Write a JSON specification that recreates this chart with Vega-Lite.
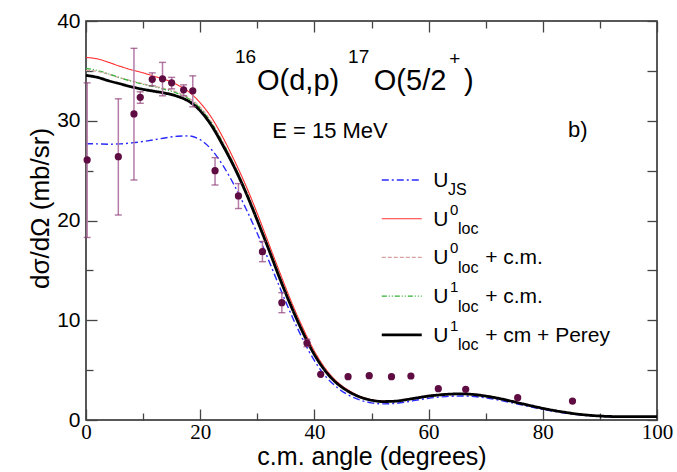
{
  "$schema": "https://vega.github.io/schema/vega-lite/v6.json",
  "autosize": {"type": "none"},
  "padding": {"left": 86, "top": 21, "right": 20, "bottom": 52},
  "width": 571,
  "height": 399,
  "background": "white",
  "config": {
    "view": {"stroke": "#222", "strokeWidth": 1.5},
    "axis": {"grid": false, "domain": false, "tickColor": "#444", "tickWidth": 1.3, "labelColor": "black", "titleColor": "black", "titleFontWeight": "normal", "labelFont": "Liberation Sans", "titleFont": "Liberation Sans"},
    "font": "Liberation Sans"
  },
  "datasets": {
    "curves": [
      {"a":0,"v":27.7,"m":"B"},{"a":2,"v":27.68,"m":"B"},{"a":4,"v":27.65,"m":"B"},{"a":6,"v":27.68,"m":"B"},{"a":8,"v":27.78,"m":"B"},{"a":10,"v":27.92,"m":"B"},{"a":12,"v":28.1,"m":"B"},{"a":14,"v":28.3,"m":"B"},{"a":16,"v":28.45,"m":"B"},{"a":18,"v":28.48,"m":"B"},{"a":20,"v":28.1,"m":"B"},{"a":22,"v":27.1,"m":"B"},{"a":24,"v":25.5,"m":"B"},{"a":26,"v":23.5,"m":"B"},{"a":28,"v":21.2,"m":"B"},{"a":30,"v":18.7,"m":"B"},{"a":32,"v":16.0,"m":"B"},{"a":34,"v":13.2,"m":"B"},{"a":36,"v":10.5,"m":"B"},{"a":38,"v":8.05,"m":"B"},{"a":40,"v":5.95,"m":"B"},{"a":42,"v":4.35,"m":"B"},{"a":44,"v":3.25,"m":"B"},{"a":46,"v":2.5,"m":"B"},{"a":48,"v":2.0,"m":"B"},{"a":50,"v":1.72,"m":"B"},{"a":52,"v":1.62,"m":"B"},{"a":54,"v":1.66,"m":"B"},{"a":56,"v":1.8,"m":"B"},{"a":58,"v":2.0,"m":"B"},{"a":60,"v":2.18,"m":"B"},{"a":62,"v":2.3,"m":"B"},{"a":64,"v":2.38,"m":"B"},{"a":66,"v":2.4,"m":"B"},{"a":68,"v":2.35,"m":"B"},{"a":70,"v":2.22,"m":"B"},{"a":72,"v":2.03,"m":"B"},{"a":74,"v":1.8,"m":"B"},{"a":76,"v":1.55,"m":"B"},{"a":78,"v":1.3,"m":"B"},{"a":80,"v":1.06,"m":"B"},{"a":82,"v":0.86,"m":"B"},{"a":84,"v":0.68,"m":"B"},{"a":86,"v":0.54,"m":"B"},{"a":88,"v":0.43,"m":"B"},{"a":90,"v":0.36,"m":"B"},{"a":92,"v":0.32,"m":"B"},{"a":94,"v":0.3,"m":"B"},{"a":96,"v":0.3,"m":"B"},{"a":98,"v":0.3,"m":"B"},{"a":100,"v":0.31,"m":"B"},
      {"a":0,"v":36.35,"m":"R"},{"a":2,"v":36.2,"m":"R"},{"a":4,"v":35.85,"m":"R"},{"a":6,"v":35.45,"m":"R"},{"a":8,"v":35.1,"m":"R"},{"a":10,"v":34.8,"m":"R"},{"a":12,"v":34.45,"m":"R"},{"a":14,"v":34.1,"m":"R"},{"a":16,"v":33.6,"m":"R"},{"a":18,"v":32.9,"m":"R"},{"a":20,"v":31.8,"m":"R"},{"a":22,"v":30.3,"m":"R"},{"a":24,"v":28.3,"m":"R"},{"a":26,"v":26.0,"m":"R"},{"a":28,"v":23.5,"m":"R"},{"a":30,"v":20.7,"m":"R"},{"a":32,"v":17.7,"m":"R"},{"a":34,"v":14.7,"m":"R"},{"a":36,"v":11.8,"m":"R"},{"a":38,"v":9.2,"m":"R"},{"a":40,"v":6.9,"m":"R"},{"a":42,"v":5.1,"m":"R"},{"a":44,"v":3.82,"m":"R"},{"a":46,"v":2.98,"m":"R"},{"a":48,"v":2.38,"m":"R"},{"a":50,"v":2.04,"m":"R"},{"a":52,"v":1.9,"m":"R"},{"a":54,"v":1.92,"m":"R"},{"a":56,"v":2.06,"m":"R"},{"a":58,"v":2.25,"m":"R"},{"a":60,"v":2.43,"m":"R"},{"a":62,"v":2.55,"m":"R"},{"a":64,"v":2.63,"m":"R"},{"a":66,"v":2.65,"m":"R"},{"a":68,"v":2.58,"m":"R"},{"a":70,"v":2.43,"m":"R"},{"a":72,"v":2.22,"m":"R"},{"a":74,"v":1.97,"m":"R"},{"a":76,"v":1.7,"m":"R"},{"a":78,"v":1.43,"m":"R"},{"a":80,"v":1.18,"m":"R"},{"a":82,"v":0.96,"m":"R"},{"a":84,"v":0.77,"m":"R"},{"a":86,"v":0.61,"m":"R"},{"a":88,"v":0.49,"m":"R"},{"a":90,"v":0.41,"m":"R"},{"a":92,"v":0.36,"m":"R"},{"a":94,"v":0.34,"m":"R"},{"a":96,"v":0.33,"m":"R"},{"a":98,"v":0.34,"m":"R"},{"a":100,"v":0.35,"m":"R"},
      {"a":0,"v":35.05,"m":"P"},{"a":2,"v":34.95,"m":"P"},{"a":4,"v":34.65,"m":"P"},{"a":6,"v":34.3,"m":"P"},{"a":8,"v":34.0,"m":"P"},{"a":10,"v":33.7,"m":"P"},{"a":12,"v":33.45,"m":"P"},{"a":14,"v":33.2,"m":"P"},{"a":16,"v":32.85,"m":"P"},{"a":18,"v":32.3,"m":"P"},{"a":20,"v":31.35,"m":"P"},{"a":22,"v":29.85,"m":"P"},{"a":24,"v":27.85,"m":"P"},{"a":26,"v":25.6,"m":"P"},{"a":28,"v":23.1,"m":"P"},{"a":30,"v":20.3,"m":"P"},{"a":32,"v":17.35,"m":"P"},{"a":34,"v":14.35,"m":"P"},{"a":36,"v":11.5,"m":"P"},{"a":38,"v":8.9,"m":"P"},{"a":40,"v":6.65,"m":"P"},{"a":42,"v":4.95,"m":"P"},{"a":44,"v":3.7,"m":"P"},{"a":46,"v":2.9,"m":"P"},{"a":48,"v":2.33,"m":"P"},{"a":50,"v":2.0,"m":"P"},{"a":52,"v":1.86,"m":"P"},{"a":54,"v":1.89,"m":"P"},{"a":56,"v":2.04,"m":"P"},{"a":58,"v":2.23,"m":"P"},{"a":60,"v":2.41,"m":"P"},{"a":62,"v":2.53,"m":"P"},{"a":64,"v":2.61,"m":"P"},{"a":66,"v":2.63,"m":"P"},{"a":68,"v":2.56,"m":"P"},{"a":70,"v":2.41,"m":"P"},{"a":72,"v":2.21,"m":"P"},{"a":74,"v":1.96,"m":"P"},{"a":76,"v":1.69,"m":"P"},{"a":78,"v":1.42,"m":"P"},{"a":80,"v":1.17,"m":"P"},{"a":82,"v":0.95,"m":"P"},{"a":84,"v":0.76,"m":"P"},{"a":86,"v":0.6,"m":"P"},{"a":88,"v":0.48,"m":"P"},{"a":90,"v":0.4,"m":"P"},{"a":92,"v":0.35,"m":"P"},{"a":94,"v":0.33,"m":"P"},{"a":96,"v":0.33,"m":"P"},{"a":98,"v":0.33,"m":"P"},{"a":100,"v":0.34,"m":"P"},
      {"a":0,"v":35.25,"m":"G"},{"a":2,"v":35.05,"m":"G"},{"a":4,"v":34.7,"m":"G"},{"a":6,"v":34.3,"m":"G"},{"a":8,"v":33.95,"m":"G"},{"a":10,"v":33.65,"m":"G"},{"a":12,"v":33.4,"m":"G"},{"a":14,"v":33.1,"m":"G"},{"a":16,"v":32.75,"m":"G"},{"a":18,"v":32.2,"m":"G"},{"a":20,"v":31.25,"m":"G"},{"a":22,"v":29.75,"m":"G"},{"a":24,"v":27.75,"m":"G"},{"a":26,"v":25.5,"m":"G"},{"a":28,"v":23.0,"m":"G"},{"a":30,"v":20.2,"m":"G"},{"a":32,"v":17.25,"m":"G"},{"a":34,"v":14.25,"m":"G"},{"a":36,"v":11.4,"m":"G"},{"a":38,"v":8.82,"m":"G"},{"a":40,"v":6.6,"m":"G"},{"a":42,"v":4.9,"m":"G"},{"a":44,"v":3.67,"m":"G"},{"a":46,"v":2.87,"m":"G"},{"a":48,"v":2.31,"m":"G"},{"a":50,"v":1.99,"m":"G"},{"a":52,"v":1.85,"m":"G"},{"a":54,"v":1.88,"m":"G"},{"a":56,"v":2.03,"m":"G"},{"a":58,"v":2.22,"m":"G"},{"a":60,"v":2.4,"m":"G"},{"a":62,"v":2.52,"m":"G"},{"a":64,"v":2.6,"m":"G"},{"a":66,"v":2.62,"m":"G"},{"a":68,"v":2.55,"m":"G"},{"a":70,"v":2.4,"m":"G"},{"a":72,"v":2.2,"m":"G"},{"a":74,"v":1.95,"m":"G"},{"a":76,"v":1.68,"m":"G"},{"a":78,"v":1.42,"m":"G"},{"a":80,"v":1.17,"m":"G"},{"a":82,"v":0.95,"m":"G"},{"a":84,"v":0.76,"m":"G"},{"a":86,"v":0.6,"m":"G"},{"a":88,"v":0.48,"m":"G"},{"a":90,"v":0.4,"m":"G"},{"a":92,"v":0.35,"m":"G"},{"a":94,"v":0.33,"m":"G"},{"a":96,"v":0.33,"m":"G"},{"a":98,"v":0.33,"m":"G"},{"a":100,"v":0.34,"m":"G"},
      {"a":0,"v":34.55,"m":"K"},{"a":2,"v":34.35,"m":"K"},{"a":4,"v":34.0,"m":"K"},{"a":6,"v":33.7,"m":"K"},{"a":8,"v":33.4,"m":"K"},{"a":10,"v":33.15,"m":"K"},{"a":12,"v":32.95,"m":"K"},{"a":14,"v":32.75,"m":"K"},{"a":16,"v":32.45,"m":"K"},{"a":18,"v":31.95,"m":"K"},{"a":20,"v":31.0,"m":"K"},{"a":22,"v":29.5,"m":"K"},{"a":24,"v":27.5,"m":"K"},{"a":26,"v":25.3,"m":"K"},{"a":28,"v":22.8,"m":"K"},{"a":30,"v":20.0,"m":"K"},{"a":32,"v":17.1,"m":"K"},{"a":34,"v":14.1,"m":"K"},{"a":36,"v":11.3,"m":"K"},{"a":38,"v":8.75,"m":"K"},{"a":40,"v":6.55,"m":"K"},{"a":42,"v":4.85,"m":"K"},{"a":44,"v":3.65,"m":"K"},{"a":46,"v":2.85,"m":"K"},{"a":48,"v":2.3,"m":"K"},{"a":50,"v":1.98,"m":"K"},{"a":52,"v":1.85,"m":"K"},{"a":54,"v":1.88,"m":"K"},{"a":56,"v":2.03,"m":"K"},{"a":58,"v":2.22,"m":"K"},{"a":60,"v":2.4,"m":"K"},{"a":62,"v":2.52,"m":"K"},{"a":64,"v":2.6,"m":"K"},{"a":66,"v":2.62,"m":"K"},{"a":68,"v":2.55,"m":"K"},{"a":70,"v":2.4,"m":"K"},{"a":72,"v":2.2,"m":"K"},{"a":74,"v":1.95,"m":"K"},{"a":76,"v":1.68,"m":"K"},{"a":78,"v":1.42,"m":"K"},{"a":80,"v":1.17,"m":"K"},{"a":82,"v":0.95,"m":"K"},{"a":84,"v":0.76,"m":"K"},{"a":86,"v":0.6,"m":"K"},{"a":88,"v":0.48,"m":"K"},{"a":90,"v":0.4,"m":"K"},{"a":92,"v":0.35,"m":"K"},{"a":94,"v":0.33,"m":"K"},{"a":96,"v":0.33,"m":"K"},{"a":98,"v":0.33,"m":"K"},{"a":100,"v":0.34,"m":"K"}
    ],
    "points": [
      {"a":0.2,"v":26.07,"lo":18.3,"hi":33.8},
      {"a":5.66,"v":26.4,"lo":20.55,"hi":32.2},
      {"a":8.4,"v":30.68,"lo":24.06,"hi":37.26},
      {"a":9.5,"v":32.35,"lo":31.75,"hi":32.9},
      {"a":11.6,"v":34.15,"lo":33.5,"hi":34.8},
      {"a":13.4,"v":34.2,"lo":32.5,"hi":35.85},
      {"a":15.0,"v":33.8,"lo":33.2,"hi":34.35},
      {"a":17.1,"v":33.1,"lo":32.5,"hi":33.6},
      {"a":18.7,"v":33.0,"lo":31.4,"hi":34.5},
      {"a":22.6,"v":25.0,"lo":23.56,"hi":26.3},
      {"a":26.7,"v":22.46,"lo":21.2,"hi":23.7},
      {"a":30.9,"v":16.87,"lo":15.87,"hi":17.9},
      {"a":34.3,"v":11.76,"lo":10.76,"hi":12.76},
      {"a":38.7,"v":7.72,"lo":7.35,"hi":8.09},
      {"a":41.1,"v":4.58,"lo":4.58,"hi":4.58},
      {"a":45.9,"v":4.34,"lo":4.34,"hi":4.34},
      {"a":49.6,"v":4.44,"lo":4.44,"hi":4.44},
      {"a":53.5,"v":4.34,"lo":4.34,"hi":4.34},
      {"a":56.9,"v":4.41,"lo":4.41,"hi":4.41},
      {"a":61.7,"v":3.14,"lo":3.14,"hi":3.14},
      {"a":66.5,"v":3.08,"lo":3.08,"hi":3.08},
      {"a":75.6,"v":2.24,"lo":2.24,"hi":2.24},
      {"a":85.2,"v":1.9,"lo":1.9,"hi":1.9}
    ],
    "legendLines": [
      {"m":"B","v":24.06},
      {"m":"R","v":20.18},
      {"m":"P","v":16.3},
      {"m":"G","v":12.42},
      {"m":"K","v":8.54}
    ],
    "texts": [
      {"t":"16","a":26.1,"v":35.75,"k":"tsup"},
      {"t":"O(d,p)","a":29.95,"v":33.08,"k":"big"},
      {"t":"17","a":45.9,"v":35.75,"k":"tsup"},
      {"t":"O(5/2","a":50.4,"v":33.08,"k":"big"},
      {"t":"+","a":63.6,"v":35.6,"k":"tsup"},
      {"t":")","a":66.2,"v":33.08,"k":"big"},
      {"t":"E = 15 MeV","a":32.6,"v":28.27,"k":"mid"},
      {"t":"b)","a":84.4,"v":28.4,"k":"mid"},
      {"t":"U","a":60.8,"v":23.36,"k":"leg"},
      {"t":"JS","a":63.4,"v":22.6,"k":"lsub"},
      {"t":"U","a":60.8,"v":19.48,"k":"leg"},
      {"t":"0","a":63.75,"v":20.58,"k":"lsup"},
      {"t":"loc","a":65.15,"v":18.63,"k":"lsub"},
      {"t":"U","a":60.8,"v":15.6,"k":"leg"},
      {"t":"0","a":63.75,"v":16.7,"k":"lsup"},
      {"t":"loc","a":65.15,"v":14.75,"k":"lsub"},
      {"t":"+ c.m.","a":69.9,"v":15.6,"k":"leg"},
      {"t":"U","a":60.8,"v":11.72,"k":"leg"},
      {"t":"1","a":63.75,"v":12.82,"k":"lsup"},
      {"t":"loc","a":65.15,"v":10.87,"k":"lsub"},
      {"t":"+ c.m.","a":69.9,"v":11.72,"k":"leg"},
      {"t":"U","a":60.8,"v":7.84,"k":"leg"},
      {"t":"1","a":63.75,"v":8.94,"k":"lsup"},
      {"t":"loc","a":65.15,"v":6.99,"k":"lsub"},
      {"t":"+ cm + Perey","a":69.9,"v":7.84,"k":"leg"}
    ]
  },
  "resolve": {"axis": {"x": "independent", "y": "independent"}},
  "layer": [
    {
      "data": {"name": "curves"},
      "mark": {"type": "line", "interpolate": "monotone"},
      "encoding": {
        "x": {"field": "a", "type": "quantitative",
          "scale": {"domain": [0, 100], "nice": false},
          "axis": {"orient": "bottom", "values": [0,10,20,30,40,50,60,70,80,90,100],
            "tickSize": {"condition": {"test": "datum.value % 20 === 0", "value": -11}, "value": -7},
            "labelExpr": "datum.value % 20 === 0 ? datum.label : ''",
            "labelFont": "Liberation Serif", "labelFontSize": 21, "labelPadding": 12, "labelFlush": false, "labelOverlap": false, "labelBound": false,
            "title": "c.m. angle (degrees)", "titleFontSize": 25, "titlePadding": -2}},
        "y": {"field": "v", "type": "quantitative",
          "scale": {"domain": [0, 40], "nice": false},
          "axis": {"orient": "left", "values": [0,5,10,15,20,25,30,35,40],
            "tickSize": {"condition": {"test": "datum.value % 10 === 0", "value": -11}, "value": -7},
            "labelExpr": "datum.value % 10 === 0 ? datum.label : ''",
            "labelFontSize": 21, "labelPadding": 17, "labelOverlap": false, "labelBound": false, "labelFlush": false,
            "title": "dσ/dΩ (mb/sr)", "titleFontSize": 26, "titlePadding": 3, "titleY": 187}},
        "detail": {"field": "m"},
        "color": {"field": "m", "type": "nominal", "legend": null,
          "scale": {"domain": ["B","R","P","G","K"], "range": ["#2a2aff","#ff3030","#d9a0a0","#30b030","#000000"]}},
        "strokeDash": {"field": "m", "type": "nominal", "legend": null,
          "scale": {"domain": ["B","R","P","G","K"], "range": [[7,3,2,3],[1,0],[4,2],[5,2,1,2,1,2],[1,0]]}},
        "strokeWidth": {"field": "m", "type": "ordinal", "legend": null,
          "scale": {"type": "ordinal", "domain": ["B","R","P","G","K"], "range": [1.4,1.1,1.2,1.2,2.8]}}
      }
    },
    {
      "data": {"name": "legendLines"},
      "mark": {"type": "rule"},
      "encoding": {
        "x": {"datum": 51.8, "type": "quantitative", "scale": {"domain": [0, 100], "nice": false}, "axis": null},
        "x2": {"datum": 58.8},
        "y": {"field": "v", "type": "quantitative", "scale": {"domain": [0, 40], "nice": false}, "axis": null},
        "color": {"field": "m", "type": "nominal", "legend": null,
          "scale": {"domain": ["B","R","P","G","K"], "range": ["#2a2aff","#ff3030","#d9a0a0","#30b030","#000000"]}},
        "strokeDash": {"field": "m", "type": "nominal", "legend": null,
          "scale": {"domain": ["B","R","P","G","K"], "range": [[7,3,2,3],[1,0],[4,2],[5,2,1,2,1,2],[1,0]]}},
        "strokeWidth": {"field": "m", "type": "ordinal", "legend": null,
          "scale": {"type": "ordinal", "domain": ["B","R","P","G","K"], "range": [1.4,1.1,1.2,1.2,2.8]}}
      }
    },
    {
      "data": {"name": "points"},
      "transform": [{"filter": "datum.hi > datum.lo"}],
      "mark": {"type": "rule", "color": "#b57ba8", "strokeWidth": 1.5},
      "encoding": {
        "x": {"field": "a", "type": "quantitative", "scale": {"domain": [0, 100], "nice": false}, "axis": null},
        "y": {"field": "lo", "type": "quantitative", "scale": {"domain": [0, 40], "nice": false}, "axis": null},
        "y2": {"field": "hi"}
      }
    },
    {
      "data": {"name": "points"},
      "transform": [{"filter": "datum.hi > datum.lo"}],
      "mark": {"type": "tick", "orient": "horizontal", "color": "#8e3d76", "size": 7, "thickness": 1.4},
      "encoding": {
        "x": {"field": "a", "type": "quantitative", "scale": {"domain": [0, 100], "nice": false}, "axis": null},
        "y": {"field": "lo", "type": "quantitative", "scale": {"domain": [0, 40], "nice": false}, "axis": null}
      }
    },
    {
      "data": {"name": "points"},
      "transform": [{"filter": "datum.hi > datum.lo"}],
      "mark": {"type": "tick", "orient": "horizontal", "color": "#8e3d76", "size": 7, "thickness": 1.4},
      "encoding": {
        "x": {"field": "a", "type": "quantitative", "scale": {"domain": [0, 100], "nice": false}, "axis": null},
        "y": {"field": "hi", "type": "quantitative", "scale": {"domain": [0, 40], "nice": false}, "axis": null}
      }
    },
    {
      "data": {"name": "points"},
      "mark": {"type": "circle", "color": "#5e0c42", "opacity": 1, "size": 52},
      "encoding": {
        "x": {"field": "a", "type": "quantitative", "scale": {"domain": [0, 100], "nice": false},
          "axis": {"orient": "top", "values": [0,10,20,30,40,50,60,70,80,90,100], "labels": false, "title": null,
            "tickSize": {"condition": {"test": "datum.value % 20 === 0", "value": -11}, "value": -7}}},
        "y": {"field": "v", "type": "quantitative", "scale": {"domain": [0, 40], "nice": false},
          "axis": {"orient": "right", "values": [0,5,10,15,20,25,30,35,40], "labels": false, "title": null,
            "tickSize": -10}}
      }
    },
    {
      "data": {"name": "texts"},
      "transform": [{"filter": "datum.k === 'big'"}],
      "mark": {"type": "text", "align": "left", "baseline": "alphabetic", "fontSize": 29, "color": "black"},
      "encoding": {
        "x": {"field": "a", "type": "quantitative", "scale": {"domain": [0, 100], "nice": false}, "axis": null},
        "y": {"field": "v", "type": "quantitative", "scale": {"domain": [0, 40], "nice": false}, "axis": null},
        "text": {"field": "t"}
      }
    },
    {
      "data": {"name": "texts"},
      "transform": [{"filter": "datum.k === 'tsup'"}],
      "mark": {"type": "text", "align": "left", "baseline": "alphabetic", "fontSize": 19, "color": "black"},
      "encoding": {
        "x": {"field": "a", "type": "quantitative", "scale": {"domain": [0, 100], "nice": false}, "axis": null},
        "y": {"field": "v", "type": "quantitative", "scale": {"domain": [0, 40], "nice": false}, "axis": null},
        "text": {"field": "t"}
      }
    },
    {
      "data": {"name": "texts"},
      "transform": [{"filter": "datum.k === 'mid'"}],
      "mark": {"type": "text", "align": "left", "baseline": "alphabetic", "fontSize": 22, "color": "black"},
      "encoding": {
        "x": {"field": "a", "type": "quantitative", "scale": {"domain": [0, 100], "nice": false}, "axis": null},
        "y": {"field": "v", "type": "quantitative", "scale": {"domain": [0, 40], "nice": false}, "axis": null},
        "text": {"field": "t"}
      }
    },
    {
      "data": {"name": "texts"},
      "transform": [{"filter": "datum.k === 'leg'"}],
      "mark": {"type": "text", "align": "left", "baseline": "alphabetic", "fontSize": 21, "color": "black"},
      "encoding": {
        "x": {"field": "a", "type": "quantitative", "scale": {"domain": [0, 100], "nice": false}, "axis": null},
        "y": {"field": "v", "type": "quantitative", "scale": {"domain": [0, 40], "nice": false}, "axis": null},
        "text": {"field": "t"}
      }
    },
    {
      "data": {"name": "texts"},
      "transform": [{"filter": "datum.k === 'lsub'"}],
      "mark": {"type": "text", "align": "left", "baseline": "alphabetic", "fontSize": 16, "color": "black"},
      "encoding": {
        "x": {"field": "a", "type": "quantitative", "scale": {"domain": [0, 100], "nice": false}, "axis": null},
        "y": {"field": "v", "type": "quantitative", "scale": {"domain": [0, 40], "nice": false}, "axis": null},
        "text": {"field": "t"}
      }
    },
    {
      "data": {"name": "texts"},
      "transform": [{"filter": "datum.k === 'lsup'"}],
      "mark": {"type": "text", "align": "left", "baseline": "alphabetic", "fontSize": 15, "color": "black"},
      "encoding": {
        "x": {"field": "a", "type": "quantitative", "scale": {"domain": [0, 100], "nice": false}, "axis": null},
        "y": {"field": "v", "type": "quantitative", "scale": {"domain": [0, 40], "nice": false}, "axis": null},
        "text": {"field": "t"}
      }
    }
  ]
}
